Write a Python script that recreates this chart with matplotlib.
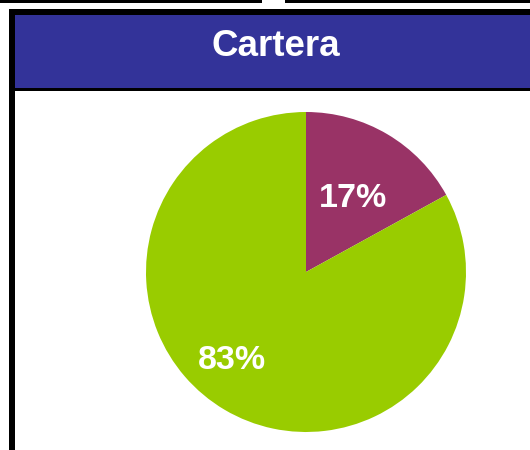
import matplotlib
matplotlib.use("Agg")
import matplotlib.pyplot as plt
from matplotlib.patches import Rectangle

title = "Cartera"
categories = ["A", "B"]
values = [17, 83]
colors = ["#993366", "#99CC00"]
label_texts = ["17%", "83%"]

W, H = 530, 450
fig = plt.figure(figsize=(W / 100, H / 100), dpi=100)
fig.patch.set_facecolor("white")

# decoration axes in pixel coords (y down)
deco = fig.add_axes([0, 0, 1, 1])
deco.set_xlim(0, W)
deco.set_ylim(H, 0)
deco.axis("off")

def rect(x0, y0, x1, y1, color, z=1):
    deco.add_patch(Rectangle((x0, y0), x1 - x0, y1 - y0, facecolor=color,
                             edgecolor="none", zorder=z))

# top black lines
rect(0, 0, 262, 3, "black")
rect(285, 0, W, 3, "black")
# frame top border and title bar
rect(9, 9, W, 15, "black")
rect(15, 15, W, 88, "#333399")
rect(9, 88, W, 91, "black")
# left border
rect(9, 9, 15, H, "black")

deco.text(276, 46, title, color="white", fontsize=26.5, fontweight="bold",
          family="Liberation Sans", ha="center", va="center")

# pie axes: center (306, 272), radius 160 px
cx, cy, r = 306, 272, 160
ax = fig.add_axes([(cx - r) / W, (H - cy - r) / H, 2 * r / W, 2 * r / H])
wedges, texts = ax.pie(values, colors=colors, startangle=90, counterclock=False,
                       radius=1, wedgeprops=dict(linewidth=0))
ax.set_xlim(-1, 1)
ax.set_ylim(-1, 1)
ax.set_aspect("equal")
ax.axis("off")

label_pos = [(0.294, 0.46), (-0.4625, -0.553)]
for txt, (lx, ly) in zip(label_texts, label_pos):
    ax.text(lx, ly, txt, color="white", fontsize=24.5, fontweight="bold",
            family="Liberation Sans", ha="center", va="center")

fig.savefig("out.png", dpi=100)
